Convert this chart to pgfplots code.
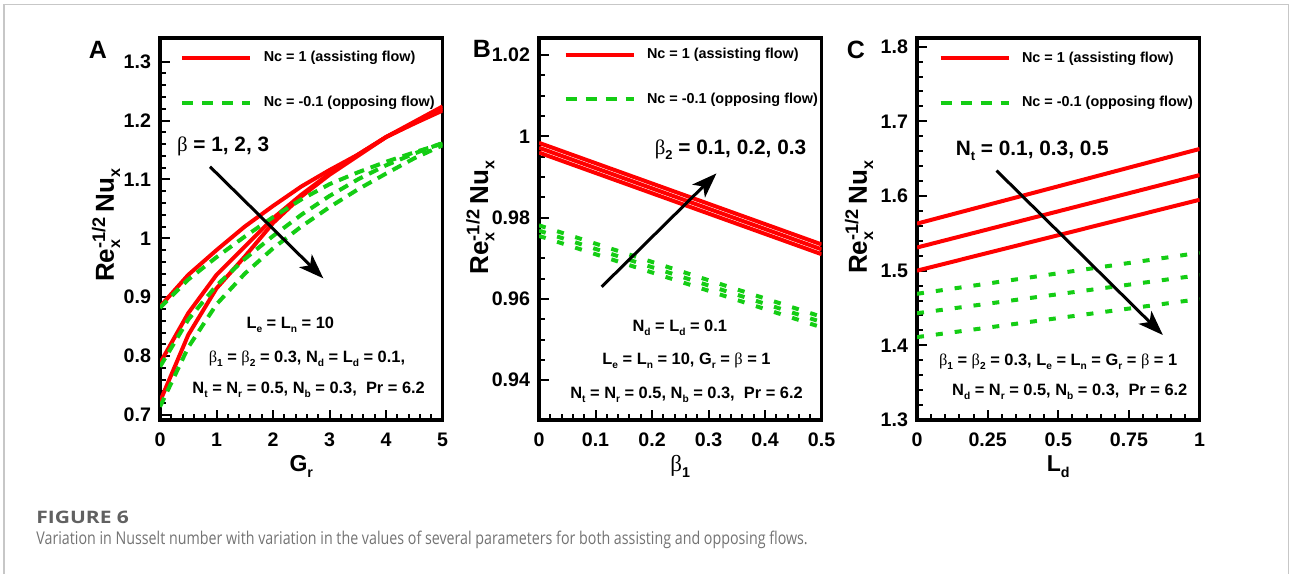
\documentclass[border=0pt]{standalone}
\usepackage{graphicx}
\usepackage{fontspec}
\setmainfont{Liberation Sans}
\newfontfamily\grk{Liberation Serif}
\newfontfamily\capfont[FakeStretch=0.81]{Open Sans}
\newfontfamily\capfontwide[FakeStretch=1.22]{Open Sans}
\usepackage{pgfplots}
\pgfplotsset{compat=1.18}
\usetikzlibrary{arrows.meta}
\definecolor{myred}{RGB}{255,0,0}
\definecolor{mygreen}{RGB}{20,205,20}
\newcommand{\gb}{{\grk\mdseries β}}
\newcommand{\sub}[1]{\raisebox{-0.45ex}{\scalebox{0.62}{#1}}}
\newcommand{\params}{\fontsize{8.2}{10}\selectfont\bfseries}
\newcommand{\bigann}{\fontsize{10.4}{12}\selectfont\bfseries}
\newcommand{\ylab}{Re\rlap{\sub{x}}\textsuperscript{-1/2}\,Nu\sub{x}}
\tikzset{arr/.style={black, line width=1.5pt, -{Stealth[length=12.5pt,width=9pt,inset=3.2pt]}}}
\pgfplotsset{
  panel/.style={
    scale only axis, width=141.3pt, height=191pt, anchor=south west,
    axis line style={line width=1.8pt},
    tick pos=left, tick align=inside,
    major tick length=5pt, minor tick length=3pt,
    every tick/.style={black, line width=1pt},
    tick label style={font=\fontsize{9.8}{11}\selectfont\bfseries},
    /pgf/number format/assume math mode=true,
    xticklabel style={yshift=-3pt},
    yticklabel style={xshift=-1pt},
    xlabel style={font=\fontsize{11.5}{13}\selectfont\bfseries, at={(rel axis cs:0.5,-0.135)}, anchor=base},
    ylabel style={font=\fontsize{13}{15}\selectfont\bfseries, anchor=center},
    legend style={draw=none, fill=none, font=\fontsize{7.2}{9}\selectfont\bfseries,
      inner sep=0pt, row sep=11.5pt, anchor=north west,
      /tikz/every odd column/.append style={column sep=3.7pt}},
    legend cell align=left,
    legend image code/.code={\draw[#1] (0pt,0pt) -- (34pt,0pt);},
  },
  redl/.style={myred, line width=2pt},
  greenA/.style={mygreen, line width=2pt, dash pattern=on 5pt off 3.5pt},
  greenB/.style={mygreen, line width=2pt, dash pattern=on 3.5pt off 6pt},
  greenL/.style={mygreen, line width=2pt, dash pattern=on 5.5pt off 4.5pt},
}
\begin{document}
\begin{tikzpicture}
\useasboundingbox (0,0) rectangle (645pt,287pt);
\draw[line width=0.6pt, black!22] (2pt,0) -- (2pt,284.7pt) -- (644.3pt,284.7pt) -- (644.3pt,0);
\node[anchor=base west, inner sep=0pt, font=\capfontwide\bfseries\fontsize{8.6}{10}\selectfont, text=black!62] at (18pt,25.5pt) {FIGURE 6};
\node[anchor=base west, inner sep=0pt, font=\capfont\fontsize{8.8}{10}\selectfont, text=black!55] at (18pt,14.6pt) {Variation in Nusselt number with variation in the values of several parameters for both assisting and opposing flows.};
\node[font=\fontsize{12.5}{14}\selectfont\bfseries] at (49pt,262pt) {A};
\node[font=\fontsize{12.5}{14}\selectfont\bfseries] at (241pt,262.5pt) {B};
\node[font=\fontsize{12.5}{14}\selectfont\bfseries] at (428pt,262pt) {C};

% ---------------- Panel A ----------------
\begin{axis}[panel, at={(80pt,77pt)},
  xmin=0, xmax=5, ymin=0.6915, ymax=1.3402,
  xtick={0,1,2,3,4,5}, ytick={0.7,0.8,0.9,1,1.1,1.2,1.3},
  minor x tick num=4, minor y tick num=4,
  xlabel={G\sub{r}}, ylabel={\ylab},
  ylabel style={at={(rel axis cs:-0.191,0.51)}},
  legend style={at={(rel axis cs:0.0709,0.9762)}}]
\addlegendimage{redl}\addlegendentry{Nc = 1 (assisting flow)}
\addlegendimage{greenL}\addlegendentry{Nc = -0.1 (opposing flow)}
\addplot[redl, forget plot] coordinates {(0,0.884)(0.5,0.938)(1,0.980)(1.5,1.020)(2,1.055)(2.5,1.088)(3,1.116)(3.5,1.142)(4,1.172)(4.5,1.195)(5,1.217)};
\addplot[redl, forget plot] coordinates {(0,0.788)(0.5,0.873)(1,0.938)(1.5,0.986)(2,1.034)(2.5,1.074)(3,1.110)(3.5,1.142)(4,1.172)(4.5,1.196)(5,1.220)};
\addplot[redl, forget plot] coordinates {(0,0.723)(0.5,0.836)(1,0.915)(1.5,0.969)(2,1.026)(2.5,1.071)(3,1.108)(3.5,1.140)(4,1.172)(4.5,1.198)(5,1.224)};
\addplot[greenA, forget plot] coordinates {(0,0.882)(0.5,0.930)(1,0.968)(1.5,1.003)(2,1.036)(2.5,1.066)(3,1.092)(3.5,1.112)(4,1.130)(4.5,1.146)(5,1.161)};
\addplot[greenA, forget plot] coordinates {(0,0.782)(0.5,0.862)(1,0.920)(1.5,0.965)(2,1.004)(2.5,1.040)(3,1.072)(3.5,1.100)(4,1.124)(4.5,1.144)(5,1.162)};
\addplot[greenA, forget plot] coordinates {(0,0.714)(0.5,0.815)(1,0.888)(1.5,0.940)(2,0.983)(2.5,1.020)(3,1.053)(3.5,1.083)(4,1.110)(4.5,1.136)(5,1.158)};
\node[anchor=west, inner sep=0pt, font=\bigann] at (axis cs:0.295,1.156) {\gb{} = 1, 2, 3};
\draw[arr] (axis cs:0.885,1.1216) -- (axis cs:2.89,0.932);
\node[inner sep=0pt, font=\params] at (axis cs:2.305,0.8527) {L\sub{e} = L\sub{n} = 10};
\node[inner sep=0pt, font=\params] at (axis cs:2.60,0.796) {\gb\sub{1} = \gb\sub{2} = 0.3, N\sub{d} = L\sub{d} = 0.1,};
\node[inner sep=0pt, font=\params] at (axis cs:2.63,0.7422) {N\sub{t} = N\sub{r} = 0.5, N\sub{b} = 0.3,\ \ Pr = 6.2};
\end{axis}

% ---------------- Panel B ----------------
\begin{axis}[panel, at={(269.5pt,77pt)},
  xmin=0, xmax=0.5, ymin=0.9302, ymax=1.0242,
  xtick={0,0.1,0.2,0.3,0.4,0.5}, ytick={0.94,0.96,0.98,1,1.02},
  minor x tick num=4, minor y tick num=3,
  xlabel={\gb\sub{1}}, ylabel={\ylab},
  ylabel style={at={(rel axis cs:-0.208,0.53)}},
  legend style={at={(rel axis cs:0.0859,0.985)}}]
\addlegendimage{redl}\addlegendentry{Nc = 1 (assisting flow)}
\addlegendimage{greenL}\addlegendentry{Nc = -0.1 (opposing flow)}
\addplot[redl, forget plot] coordinates {(0,0.9960)(0.1,0.9910)(0.2,0.9860)(0.3,0.9810)(0.4,0.9760)(0.5,0.9710)};
\addplot[redl, forget plot] coordinates {(0,0.9972)(0.1,0.9922)(0.2,0.9872)(0.3,0.9822)(0.4,0.9772)(0.5,0.9722)};
\addplot[redl, forget plot] coordinates {(0,0.9984)(0.1,0.9934)(0.2,0.9884)(0.3,0.9834)(0.4,0.9784)(0.5,0.9734)};
\addplot[greenB, forget plot] coordinates {(0,0.9755)(0.1,0.9710)(0.2,0.9665)(0.3,0.9620)(0.4,0.9575)(0.5,0.9530)};
\addplot[greenB, forget plot] coordinates {(0,0.9768)(0.1,0.9723)(0.2,0.9678)(0.3,0.9633)(0.4,0.9588)(0.5,0.9543)};
\addplot[greenB, forget plot] coordinates {(0,0.9781)(0.1,0.9736)(0.2,0.9691)(0.3,0.9646)(0.4,0.9601)(0.5,0.9556)};
\node[inner sep=0pt, font=\bigann] at (axis cs:0.3389,0.99662) {\gb\sub{2} = 0.1, 0.2, 0.3};
\draw[arr] (axis cs:0.1108,0.96297) -- (axis cs:0.3140,0.99088);
\node[inner sep=0pt, font=\params] at (axis cs:0.2491,0.95287) {N\sub{d} = L\sub{d} = 0.1};
\node[inner sep=0pt, font=\params] at (axis cs:0.261,0.94468) {L\sub{e} = L\sub{n} = 10, G\sub{r} = \gb{} = 1};
\node[inner sep=0pt, font=\params] at (axis cs:0.261,0.93648) {N\sub{t} = N\sub{r} = 0.5, N\sub{b} = 0.3,\ \ Pr = 6.2};
\end{axis}

% ---------------- Panel C ----------------
\begin{axis}[panel, at={(458.5pt,77pt)},
  xmin=0, xmax=1, ymin=1.3, ymax=1.8116,
  xtick={0,0.25,0.5,0.75,1}, ytick={1.3,1.4,1.5,1.6,1.7,1.8},
  minor x tick num=4, minor y tick num=4,
  xlabel={L\sub{d}}, ylabel={\ylab},
  ylabel style={at={(rel axis cs:-0.205,0.531)}},
  legend style={at={(rel axis cs:0.0753,0.976)}}]
\addlegendimage{redl}\addlegendentry{Nc = 1 (assisting flow)}
\addlegendimage{greenL}\addlegendentry{Nc = -0.1 (opposing flow)}
\addplot[redl, forget plot] coordinates {(0,1.563)(0.25,1.588)(0.5,1.613)(0.75,1.638)(1,1.663)};
\addplot[redl, forget plot] coordinates {(0,1.531)(0.25,1.55525)(0.5,1.5795)(0.75,1.60375)(1,1.628)};
\addplot[redl, forget plot] coordinates {(0,1.500)(0.25,1.52375)(0.5,1.5475)(0.75,1.57125)(1,1.595)};
\addplot[greenB, forget plot] coordinates {(0,1.469)(0.25,1.48275)(0.5,1.4965)(0.75,1.51025)(1,1.524)};
\addplot[greenB, forget plot] coordinates {(0,1.443)(0.25,1.45575)(0.5,1.4685)(0.75,1.48125)(1,1.494)};
\addplot[greenB, forget plot] coordinates {(0,1.411)(0.25,1.42375)(0.5,1.4365)(0.75,1.44925)(1,1.462)};
\node[inner sep=0pt, font=\bigann] at (axis cs:0.408,1.6606) {N\sub{t} = 0.1, 0.3, 0.5};
\draw[arr] (axis cs:0.2816,1.634) -- (axis cs:0.870,1.4138);
\node[inner sep=0pt, font=\params] at (axis cs:0.4993,1.3781) {\gb\sub{1} = \gb\sub{2} = 0.3, L\sub{e} = L\sub{n} = G\sub{r} = \gb{} = 1};
\node[inner sep=0pt, font=\params] at (axis cs:0.5406,1.3381) {N\sub{d} = N\sub{r} = 0.5, N\sub{b} = 0.3,\ \ Pr = 6.2};
\end{axis}
\end{tikzpicture}
\end{document}
